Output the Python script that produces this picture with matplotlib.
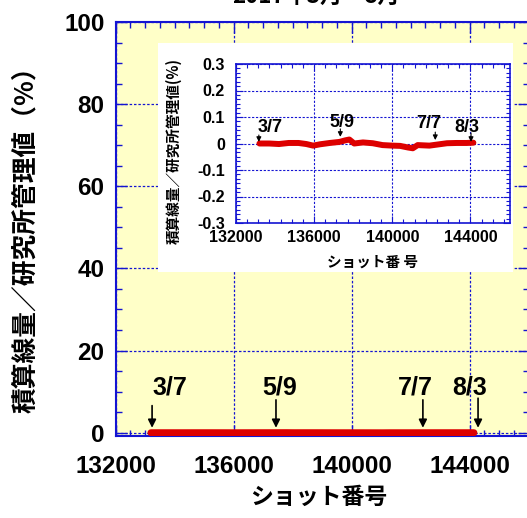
import matplotlib
matplotlib.use("Agg")
import matplotlib.pyplot as plt
from matplotlib.patches import Rectangle
from matplotlib.ticker import MultipleLocator, AutoMinorLocator

plt.rcParams['font.family'] = ['Noto Sans CJK JP', 'DejaVu Sans']

# ショット番号と積算線量/研究所管理値 (%)
shots = [133200, 133700, 134200, 134700, 135200, 135600, 135950, 136300,
         136800, 137300, 137600, 137800, 138050, 138500, 139000, 139500,
         140000, 140400, 140800, 141050, 141300, 141600, 141900, 142300,
         142800, 143300, 143800, 144150]
ratio = [0.000, 0.000, -0.002, 0.002, 0.002, -0.002, -0.008, -0.003,
         0.002, 0.006, 0.012, 0.015, 0.000, 0.004, 0.001, -0.006,
         -0.008, -0.009, -0.015, -0.018, -0.006, -0.007, -0.008, -0.004,
         0.001, 0.002, 0.002, 0.003]

dates = ["3/7", "5/9", "7/7", "8/3"]
date_shots = [133240, 137440, 142420, 144290]
inset_date_shots = [133170, 137340, 142200, 144030]

title = "2017年3月～8月"
ylabel = "積算線量／研究所管理値（%）"
inset_ylabel = "積算線量／研究所管理値(%)"
xlabel = "ショット番号"
inset_xlabel = "ショット番 号"

blue = "#1414d2"
num_font = "Liberation Sans"

W, H = 527, 518
fig = plt.figure(figsize=(W / 100, H / 100), dpi=100)


def fx(px):
    return px / W


def fy(py):
    return 1 - py / H


# main axes
ax = fig.add_axes([fx(115.5), fy(436), fx(528.5) - fx(115.5), fy(22) - fy(436)])
ax.set_facecolor("#ffffc8")
ax.plot(shots, ratio, color="#dd0000", lw=5, solid_capstyle="round", zorder=3)
ax.set_xlim(132000, 146000)
ax.set_ylim(-0.8, 100)
ax.xaxis.set_major_locator(MultipleLocator(4000))
ax.xaxis.set_minor_locator(MultipleLocator(500))
ax.yaxis.set_major_locator(MultipleLocator(20))
ax.yaxis.set_minor_locator(MultipleLocator(5))
ax.grid(True, which="major", color=blue, ls=(0, (2, 1.5)), lw=0.9)
ax.tick_params(which="both", direction="in", top=True, right=True, color=blue)
ax.tick_params(which="major", length=8, width=1)
ax.tick_params(which="minor", length=4, width=1)
ax.tick_params(axis="x", pad=14)
ax.tick_params(axis="y", pad=8)
for sp in ax.spines.values():
    sp.set_color(blue)
    sp.set_linewidth(1.5)
for lab in ax.get_xticklabels() + ax.get_yticklabels():
    lab.set_fontfamily(num_font)
    lab.set_fontweight("bold")
    lab.set_fontsize(17.5)
ax.set_xlabel(xlabel, fontsize=16.5, fontweight="bold")
ax.xaxis.set_label_coords(0.493, -0.121)
ax.set_ylabel(ylabel, fontsize=18.5, fontweight="bold")
ax.yaxis.set_label_coords(-0.186, 0.49)

text_off = [600, 140, -270, -270]
arrow_top = [6.6, 8.0, 8.0, 8.4]
for d, s, off, top in zip(dates, date_shots, text_off, arrow_top):
    ax.annotate("", xy=(s, 1.2), xytext=(s, top),
                arrowprops=dict(arrowstyle="-|>", color="black", lw=1.2,
                                mutation_scale=12, shrinkA=0, shrinkB=0),
                zorder=4)
    ax.text(s + off, 11, d, ha="center", va="center", fontsize=18,
            fontweight="bold", family=num_font)

# title (cut off at the top of the picture, as in the original)
fig.text(fx(316), fy(2.5), title, ha="center", va="baseline", fontsize=16,
         fontweight="bold")

# white box behind inset
fig.patches.append(Rectangle((fx(158), fy(272)), fx(513) - fx(158), fy(43) - fy(272),
                             transform=fig.transFigure, facecolor="white",
                             edgecolor="none", zorder=1))

# inset axes
ins = fig.add_axes([fx(236), fy(223), fx(509.5) - fx(236), fy(64) - fy(223)], zorder=2)
ins.plot(shots, ratio, color="#dd0000", lw=4.3, solid_capstyle="round", zorder=3)
ins.set_xlim(132000, 146000)
ins.set_ylim(-0.3, 0.3)
ins.xaxis.set_major_locator(MultipleLocator(4000))
ins.xaxis.set_minor_locator(AutoMinorLocator(7))
ins.yaxis.set_major_locator(MultipleLocator(0.1))
ins.yaxis.set_minor_locator(AutoMinorLocator(6))
ins.set_yticks([-0.3, -0.2, -0.1, 0, 0.1, 0.2, 0.3])
ins.set_yticklabels(["-0.3", "-0.2", "-0.1", "0", "0.1", "0.2", "0.3"])
ins.grid(True, which="major", color=blue, ls=(0, (2, 1.5)), lw=0.8)
ins.tick_params(which="both", direction="in", top=True, right=True, color=blue)
ins.tick_params(which="major", length=5, width=0.8)
ins.tick_params(which="minor", length=3, width=0.8)
ins.tick_params(axis="x", pad=5)
ins.tick_params(axis="y", pad=8)
for sp in ins.spines.values():
    sp.set_color(blue)
    sp.set_linewidth(1.2)
for lab in ins.get_xticklabels() + ins.get_yticklabels():
    lab.set_fontfamily(num_font)
    lab.set_fontweight("bold")
    lab.set_fontsize(11.5)
ins.set_xlabel(inset_xlabel, fontsize=10.5, fontweight="bold", labelpad=6)
ins.set_ylabel(inset_ylabel, fontsize=10.5, fontweight="bold")
ins.yaxis.set_label_coords(-0.2, 0.45)

ins_text = [(133730, 0.062), (137420, 0.081), (141860, 0.074), (143810, 0.062)]
ins_arrow = [(0.032, 0.006), (0.055, 0.025), (0.043, 0.013), (0.040, 0.006)]
for d, s, (tx, ty), (a0, a1) in zip(dates, inset_date_shots, ins_text, ins_arrow):
    ins.annotate("", xy=(s, a1), xytext=(s, a0),
                 arrowprops=dict(arrowstyle="-|>", color="black", lw=0.8,
                                 mutation_scale=7, shrinkA=0, shrinkB=0),
                 zorder=4)
    ins.text(tx, ty, d, ha="center", va="center", fontsize=13,
             fontweight="bold", family=num_font)

fig.savefig("out.png", dpi=100)
